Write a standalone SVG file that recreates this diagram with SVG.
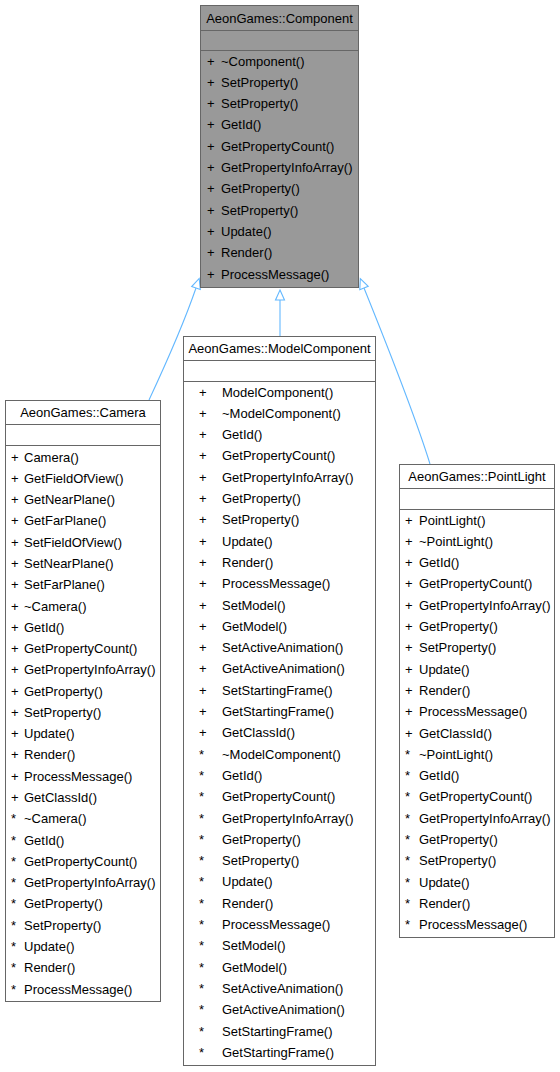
<svg xmlns="http://www.w3.org/2000/svg" width="560" height="1072" viewBox="0 0 560 1072">
<style>
text{font-family:"Liberation Sans",Arial,Helvetica,sans-serif;font-size:13px;fill:#000}
.t{text-anchor:middle}
.box{fill:#fff;stroke:#666;stroke-width:1}
.base{fill:#999;stroke:#666;stroke-width:1}
.sep{stroke:#666;stroke-width:1;fill:none}
.edge{fill:none;stroke:#63b8ff;stroke-width:1.1}
.head{fill:#fff;stroke:#63b8ff;stroke-width:1.1}
</style>
<rect width="560" height="1072" fill="#fff"/>
<g id="connectors">
<path class="edge" d="M149,400 C163,370 185,320 196,288"/>
<polygon class="head" points="199.2,278.5 200.3,289.4 191.7,286.6"/>
<path class="edge" d="M280,336 L280,300"/>
<polygon class="head" points="280,290 284.5,300 275.5,300"/>
<path class="edge" d="M430,464 C418,425 385,340 364,288"/>
<polygon class="head" points="360.3,278.7 368.2,286.3 359.8,289.7"/>
</g>
<g id="Component">
<rect class="base" x="200.5" y="5.5" width="158" height="282"/>
<line class="sep" x1="200.5" y1="30.5" x2="358.5" y2="30.5"/>
<line class="sep" x1="200.5" y1="50.5" x2="358.5" y2="50.5"/>
<text class="t" x="279.5" y="22.5">AeonGames::Component</text>
<g>
<text x="207" y="65.5">+</text><text x="221" y="65.5">~Component()</text>
<text x="207" y="86.8">+</text><text x="221" y="86.8">SetProperty()</text>
<text x="207" y="108.1">+</text><text x="221" y="108.1">SetProperty()</text>
<text x="207" y="129.4">+</text><text x="221" y="129.4">GetId()</text>
<text x="207" y="150.7">+</text><text x="221" y="150.7">GetPropertyCount()</text>
<text x="207" y="172">+</text><text x="221" y="172">GetPropertyInfoArray()</text>
<text x="207" y="193.3">+</text><text x="221" y="193.3">GetProperty()</text>
<text x="207" y="214.6">+</text><text x="221" y="214.6">SetProperty()</text>
<text x="207" y="235.9">+</text><text x="221" y="235.9">Update()</text>
<text x="207" y="257.2">+</text><text x="221" y="257.2">Render()</text>
<text x="207" y="278.5">+</text><text x="221" y="278.5">ProcessMessage()</text>
</g>
</g>
<g id="Camera">
<rect class="box" x="5.5" y="400.5" width="155" height="601"/>
<line class="sep" x1="5.5" y1="424.5" x2="160.5" y2="424.5"/>
<line class="sep" x1="5.5" y1="445.5" x2="160.5" y2="445.5"/>
<text class="t" x="83" y="416.5">AeonGames::Camera</text>
<text x="11" y="461.5">+</text><text x="24" y="461.5">Camera()</text>
<text x="11" y="482.8">+</text><text x="24" y="482.8">GetFieldOfView()</text>
<text x="11" y="504.1">+</text><text x="24" y="504.1">GetNearPlane()</text>
<text x="11" y="525.3">+</text><text x="24" y="525.3">GetFarPlane()</text>
<text x="11" y="546.6">+</text><text x="24" y="546.6">SetFieldOfView()</text>
<text x="11" y="567.9">+</text><text x="24" y="567.9">SetNearPlane()</text>
<text x="11" y="589.2">+</text><text x="24" y="589.2">SetFarPlane()</text>
<text x="11" y="610.5">+</text><text x="24" y="610.5">~Camera()</text>
<text x="11" y="631.7">+</text><text x="24" y="631.7">GetId()</text>
<text x="11" y="653">+</text><text x="24" y="653">GetPropertyCount()</text>
<text x="11" y="674.3">+</text><text x="24" y="674.3">GetPropertyInfoArray()</text>
<text x="11" y="695.6">+</text><text x="24" y="695.6">GetProperty()</text>
<text x="11" y="716.9">+</text><text x="24" y="716.9">SetProperty()</text>
<text x="11" y="738.1">+</text><text x="24" y="738.1">Update()</text>
<text x="11" y="759.4">+</text><text x="24" y="759.4">Render()</text>
<text x="11" y="780.7">+</text><text x="24" y="780.7">ProcessMessage()</text>
<text x="11" y="802">+</text><text x="24" y="802">GetClassId()</text>
<text x="11" y="823.3">*</text><text x="24" y="823.3">~Camera()</text>
<text x="11" y="844.5">*</text><text x="24" y="844.5">GetId()</text>
<text x="11" y="865.8">*</text><text x="24" y="865.8">GetPropertyCount()</text>
<text x="11" y="887.1">*</text><text x="24" y="887.1">GetPropertyInfoArray()</text>
<text x="11" y="908.4">*</text><text x="24" y="908.4">GetProperty()</text>
<text x="11" y="929.7">*</text><text x="24" y="929.7">SetProperty()</text>
<text x="11" y="950.9">*</text><text x="24" y="950.9">Update()</text>
<text x="11" y="972.2">*</text><text x="24" y="972.2">Render()</text>
<text x="11" y="993.5">*</text><text x="24" y="993.5">ProcessMessage()</text>
</g>
<g id="ModelComponent">
<rect class="box" x="183.5" y="336.5" width="192" height="729"/>
<line class="sep" x1="183.5" y1="360.5" x2="375.5" y2="360.5"/>
<line class="sep" x1="183.5" y1="381.5" x2="375.5" y2="381.5"/>
<text class="t" x="279.5" y="352.5">AeonGames::ModelComponent</text>
<text x="199" y="396.5">+</text><text x="222" y="396.5">ModelComponent()</text>
<text x="199" y="417.8">+</text><text x="222" y="417.8">~ModelComponent()</text>
<text x="199" y="439.1">+</text><text x="222" y="439.1">GetId()</text>
<text x="199" y="460.4">+</text><text x="222" y="460.4">GetPropertyCount()</text>
<text x="199" y="481.7">+</text><text x="222" y="481.7">GetPropertyInfoArray()</text>
<text x="199" y="503">+</text><text x="222" y="503">GetProperty()</text>
<text x="199" y="524.3">+</text><text x="222" y="524.3">SetProperty()</text>
<text x="199" y="545.6">+</text><text x="222" y="545.6">Update()</text>
<text x="199" y="566.9">+</text><text x="222" y="566.9">Render()</text>
<text x="199" y="588.2">+</text><text x="222" y="588.2">ProcessMessage()</text>
<text x="199" y="609.5">+</text><text x="222" y="609.5">SetModel()</text>
<text x="199" y="630.8">+</text><text x="222" y="630.8">GetModel()</text>
<text x="199" y="652.1">+</text><text x="222" y="652.1">SetActiveAnimation()</text>
<text x="199" y="673.4">+</text><text x="222" y="673.4">GetActiveAnimation()</text>
<text x="199" y="694.7">+</text><text x="222" y="694.7">SetStartingFrame()</text>
<text x="199" y="716">+</text><text x="222" y="716">GetStartingFrame()</text>
<text x="199" y="737.3">+</text><text x="222" y="737.3">GetClassId()</text>
<text x="199" y="758.6">*</text><text x="222" y="758.6">~ModelComponent()</text>
<text x="199" y="779.9">*</text><text x="222" y="779.9">GetId()</text>
<text x="199" y="801.2">*</text><text x="222" y="801.2">GetPropertyCount()</text>
<text x="199" y="822.5">*</text><text x="222" y="822.5">GetPropertyInfoArray()</text>
<text x="199" y="843.8">*</text><text x="222" y="843.8">GetProperty()</text>
<text x="199" y="865.1">*</text><text x="222" y="865.1">SetProperty()</text>
<text x="199" y="886.4">*</text><text x="222" y="886.4">Update()</text>
<text x="199" y="907.7">*</text><text x="222" y="907.7">Render()</text>
<text x="199" y="929">*</text><text x="222" y="929">ProcessMessage()</text>
<text x="199" y="950.3">*</text><text x="222" y="950.3">SetModel()</text>
<text x="199" y="971.6">*</text><text x="222" y="971.6">GetModel()</text>
<text x="199" y="992.9">*</text><text x="222" y="992.9">SetActiveAnimation()</text>
<text x="199" y="1014.2">*</text><text x="222" y="1014.2">GetActiveAnimation()</text>
<text x="199" y="1035.5">*</text><text x="222" y="1035.5">SetStartingFrame()</text>
<text x="199" y="1056.8">*</text><text x="222" y="1056.8">GetStartingFrame()</text>
</g>
<g id="PointLight">
<rect class="box" x="399.5" y="464.5" width="155" height="473"/>
<line class="sep" x1="399.5" y1="488.5" x2="554.5" y2="488.5"/>
<line class="sep" x1="399.5" y1="509.5" x2="554.5" y2="509.5"/>
<text class="t" x="477" y="480.5">AeonGames::PointLight</text>
<text x="405" y="524.5">+</text><text x="419" y="524.5">PointLight()</text>
<text x="405" y="545.8">+</text><text x="419" y="545.8">~PointLight()</text>
<text x="405" y="567.1">+</text><text x="419" y="567.1">GetId()</text>
<text x="405" y="588.4">+</text><text x="419" y="588.4">GetPropertyCount()</text>
<text x="405" y="609.7">+</text><text x="419" y="609.7">GetPropertyInfoArray()</text>
<text x="405" y="631">+</text><text x="419" y="631">GetProperty()</text>
<text x="405" y="652.3">+</text><text x="419" y="652.3">SetProperty()</text>
<text x="405" y="673.6">+</text><text x="419" y="673.6">Update()</text>
<text x="405" y="694.9">+</text><text x="419" y="694.9">Render()</text>
<text x="405" y="716.2">+</text><text x="419" y="716.2">ProcessMessage()</text>
<text x="405" y="737.5">+</text><text x="419" y="737.5">GetClassId()</text>
<text x="405" y="758.8">*</text><text x="419" y="758.8">~PointLight()</text>
<text x="405" y="780.1">*</text><text x="419" y="780.1">GetId()</text>
<text x="405" y="801.4">*</text><text x="419" y="801.4">GetPropertyCount()</text>
<text x="405" y="822.7">*</text><text x="419" y="822.7">GetPropertyInfoArray()</text>
<text x="405" y="844">*</text><text x="419" y="844">GetProperty()</text>
<text x="405" y="865.3">*</text><text x="419" y="865.3">SetProperty()</text>
<text x="405" y="886.6">*</text><text x="419" y="886.6">Update()</text>
<text x="405" y="907.9">*</text><text x="419" y="907.9">Render()</text>
<text x="405" y="929.2">*</text><text x="419" y="929.2">ProcessMessage()</text>
</g>
</svg>
